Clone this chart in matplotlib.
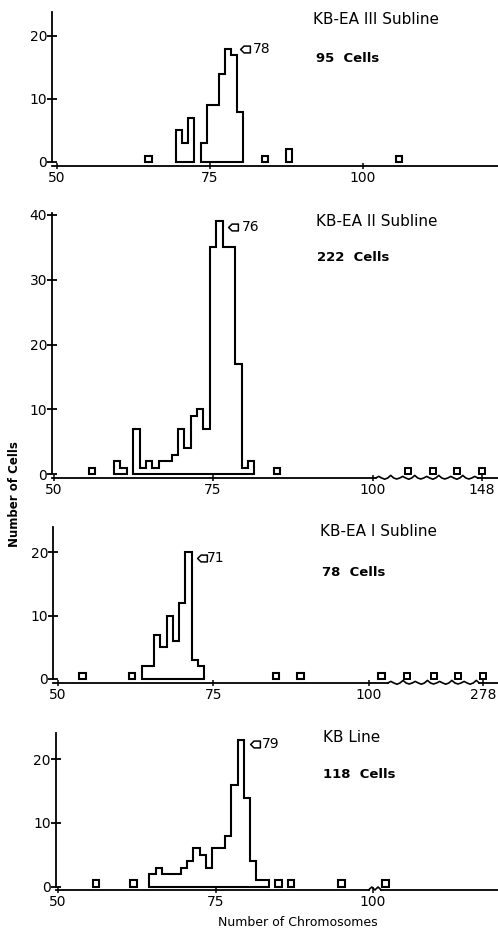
import numpy as np
import matplotlib
matplotlib.use("Agg")
import matplotlib.pyplot as plt
from matplotlib.patches import Polygon
from matplotlib.path import Path
import matplotlib.transforms as mtransforms

plt.rcParams['font.family'] = ['DejaVu Sans']

W, H = 498, 932

# ---------------- data ----------------
titles = ["KB-EA III Subline", "KB-EA II Subline", "KB-EA I Subline", "KB Line"]
n_cells = [95, 222, 78, 118]
modes = [78, 76, 71, 79]

ea3_chrom = [65, 70, 71, 72, 74, 75, 76, 77, 78, 79, 80, 84, 88, 106]
ea3_cells = [1, 5, 3, 7, 3, 9, 9, 14, 18, 17, 8, 1, 2, 1]
ea3_far = []

ea2_chrom = [56, 60, 61, 63, 64, 65, 66, 67, 68, 69, 70, 71, 72, 73, 74, 75,
             76, 77, 78, 79, 80, 81, 85]
ea2_cells = [1, 2, 1, 7, 1, 2, 1, 2, 2, 3, 7, 4, 9, 10, 7, 35,
             39, 35, 35, 17, 1, 2, 1]
ea2_far = [115, 126, 137, 148]

ea1_chrom = [54, 62, 64, 65, 66, 67, 68, 69, 70, 71, 72, 73, 85, 89, 102]
ea1_cells = [1, 1, 2, 2, 7, 5, 10, 6, 12, 20, 3, 2, 1, 1, 1]
ea1_far = [138, 187, 232, 278]

kb_chrom = [56, 62, 65, 66, 67, 68, 69, 70, 71, 72, 73, 74, 75, 76, 77, 78,
            79, 80, 81, 82, 83, 85, 87, 95, 102]
kb_cells = [1, 1, 2, 3, 2, 2, 2, 3, 4, 6, 5, 3, 6, 6, 8, 16,
            23, 14, 4, 1, 1, 1, 1, 1, 1]
kb_far = []

x_ticks = [[50, 75, 100], [50, 75, 100, 148], [50, 75, 100, 278], [50, 75, 100]]
y_ticks = [[0, 10, 20], [0, 10, 20, 30, 40], [0, 10, 20], [0, 10, 20]]

series = [(ea3_chrom, ea3_cells, ea3_far), (ea2_chrom, ea2_cells, ea2_far),
          (ea1_chrom, ea1_cells, ea1_far), (kb_chrom, kb_cells, kb_far)]

# ---------------- layout (pixels) ----------------
layout = [
    dict(pl=52, L=56.7, ppu=6.12, top=12, bot=166, y0=162, yppu=6.3, brk=None,
         mk=(14, 0, 22), title=(313, 19), sub=(316, 58)),
    dict(pl=52, L=53.5, ppu=6.38, top=213, bot=478, y0=474, yppu=6.475,
         brk=(100.5, 2.86), mk=(10.5, -5.5, 19.5), title=(316, 221), sub=(317, 257)),
    dict(pl=53, L=57.6, ppu=6.23, top=527, bot=683, y0=679, yppu=6.335,
         brk=(103.0, 11.44), mk=(10.5, -5.7, 15.5), title=(320, 531), sub=(322, 572)),
    dict(pl=55.5, L=58, ppu=6.3, top=733, bot=890, y0=886.7, yppu=6.37, brk=None,
         mk=(11, -4, 18), title=(323, 737), sub=(323, 775)),
]

LW = 1.5
mode_marker = Path([(-1, 0), (-0.3, 0.7), (1, 0.7), (1, -0.7), (-0.3, -0.7), (-1, 0)],
                   [Path.MOVETO, Path.LINETO, Path.LINETO, Path.LINETO, Path.LINETO,
                    Path.CLOSEPOLY])

fig = plt.figure(figsize=(W / 100, H / 100), dpi=100)


def make_funcs(brk):
    if brk is None:
        return (lambda x: np.asarray(x, float)), (lambda x: np.asarray(x, float))
    b, k = brk
    fwd = lambda x: np.where(np.asarray(x, float) <= b, x, b + (np.asarray(x, float) - b) / k)
    inv = lambda y: np.where(np.asarray(y, float) <= b, y, b + (np.asarray(y, float) - b) * k)
    return fwd, inv


def draw_runs(ax, chrom, cells):
    chrom = np.asarray(chrom)
    cells = np.asarray(cells)
    splits = np.where(np.diff(chrom) != 1)[0] + 1
    for xs, ys in zip(np.split(chrom, splits), np.split(cells, splits)):
        verts = [(xs[0] - 0.5, 0)]
        for x, y in zip(xs, ys):
            verts += [(x - 0.5, y), (x + 0.5, y)]
        verts.append((xs[-1] + 0.5, 0))
        ax.add_patch(Polygon(verts, closed=True, fill=False, ec='black', lw=LW,
                             joinstyle='miter'))


for i, (lay, (chrom, cells, far)) in enumerate(zip(layout, series)):
    left = lay['pl'] / W
    width = (W - lay['pl']) / W
    bottom = 1 - lay['bot'] / H
    height = (lay['bot'] - lay['top']) / H
    ax = fig.add_axes([left, bottom, width, height])
    fwd, inv = make_funcs(lay['brk'])
    if lay['brk'] is not None:
        ax.set_xscale('function', functions=(fwd, inv))

    xl = 50 - (lay['L'] - lay['pl']) / lay['ppu']
    xr_axis = 50 + (W - lay['L']) / lay['ppu']
    xr = float(inv(xr_axis))
    ytop = (lay['y0'] - lay['top']) / lay['yppu']
    ybot = -(lay['bot'] - lay['y0']) / lay['yppu']
    ax.set_xlim(xl, xr)
    ax.set_ylim(ybot, ytop)

    draw_runs(ax, chrom, cells)
    if far:
        ax.plot(far, np.full(len(far), 0.5), 's', ms=5, mfc='none', mec='black',
                mew=1.4, clip_on=False)

    # mode marker and label
    mi = list(chrom).index(modes[i])
    peak = cells[mi]
    dx, dy, tx = lay['mk']
    tr_m = mtransforms.offset_copy(ax.transData, fig=fig, x=dx, y=dy, units='dots')
    tr_t = mtransforms.offset_copy(ax.transData, fig=fig, x=tx, y=dy, units='dots')
    ax.plot([modes[i] + 0.5], [peak], marker=mode_marker, ms=7, mfc='white',
            mec='black', mew=1.1, transform=tr_m, clip_on=False)
    ax.text(modes[i] + 0.5, peak, str(modes[i]), transform=tr_t, fontsize=10,
            va='center', ha='left')

    # spines
    for s in ['top', 'right']:
        ax.spines[s].set_visible(False)
    ax.spines['left'].set_linewidth(1.3)
    ax.spines['bottom'].set_linewidth(1.3)
    ax.spines['left'].set_bounds(0, ytop)

    # axis breaks (wavy segment of the x axis)
    if lay['brk'] is not None:
        b = lay['brk'][0]
        a0 = b
        a1 = float(fwd(far[-1])) - 0.6
        ax.spines['bottom'].set_bounds(xl, b)
        n = int((a1 - a0) * lay['ppu'] / 3.0)
        au = np.linspace(a0, a1, n + 1)
        amp = 1.0 / lay['yppu']
        pattern = np.tile([0, 1.6, 0, -1.2, 0, 2.6, 0, -1.0], n // 8 + 2)[:n + 1]
        zy = ybot + amp * pattern
        ax.plot(inv(au), zy, color='black', lw=1.2, clip_on=False)
        ax.plot([float(inv(a1)), xr], [ybot, ybot], color='black', lw=1.3,
                clip_on=False)
    if i == 3:
        a0, a1 = 99.3, 101.3
        ax.spines['bottom'].set_bounds(xl, a0)
        au = np.linspace(a0, a1, 5)
        amp = 3.0 / lay['yppu']
        zy = ybot + amp * np.array([0, 1, 0, 1, 0])
        ax.plot(au, zy, color='black', lw=1.2, clip_on=False)
        ax.plot([a1, xr], [ybot, ybot], color='black', lw=1.3, clip_on=False)

    ax.set_xticks(x_ticks[i])
    ax.set_xticklabels([str(t) for t in x_ticks[i]])
    ax.set_yticks(y_ticks[i])
    ax.tick_params(axis='y', direction='inout', length=7, width=1.3, pad=0,
                   labelsize=10)
    ax.tick_params(axis='x', direction='inout', length=5, width=1.1, pad=1,
                   labelsize=10)
    ax.patch.set_visible(False)

    fig.text(lay['title'][0] / W, 1 - lay['title'][1] / H, titles[i], fontsize=11,
             va='center', ha='left')
    fig.text(lay['sub'][0] / W, 1 - lay['sub'][1] / H, f"{n_cells[i]}  Cells",
             fontsize=9.5, fontweight='bold', va='center', ha='left')

fig.text(15 / W, 1 - 494.5 / H, "Number of Cells", rotation=90, fontsize=8.5,
         fontweight='bold', va='center', ha='center')
fig.text(298 / W, 1 - 922 / H, "Number of Chromosomes", fontsize=9,
         va='center', ha='center')

fig.savefig("out.png", dpi=100)
